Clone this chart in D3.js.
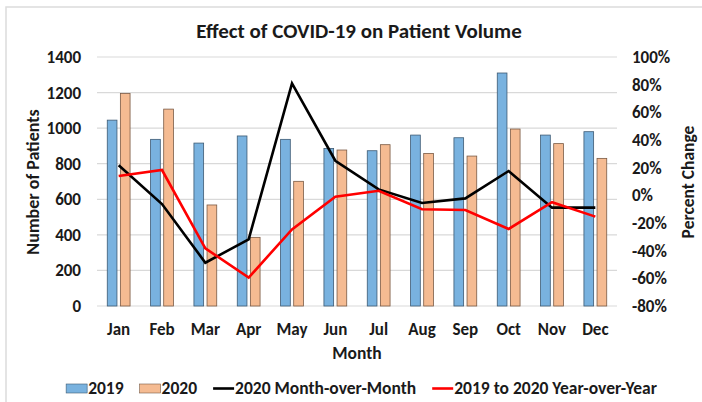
<!DOCTYPE html>
<html>
<head>
<meta charset="utf-8">
<script src="https://cdn.jsdelivr.net/npm/d3@7"></script>
<style>
  body { margin: 0; background: #fff; }
  svg text { font-family: Carlito, Lato, sans-serif; font-weight: bold; fill: #1a1a1a; }
</style>
</head>
<body>
<div id="chart"></div>
<script>
// data
var months = ["Jan","Feb","Mar","Apr","May","Jun","Jul","Aug","Sep","Oct","Nov","Dec"];
var patients2019 = [1045, 937, 916, 956, 937, 886, 873, 961, 946, 1310, 961, 980];
var patients2020 = [1195, 1107, 568, 386, 701, 877, 907, 858, 843, 995, 913, 830];
var monthOverMonth = [21.7, -6.3, -48.7, -31.8, 81, 25, 4.3, -5.5, -2.2, 17.6, -8.9, -8.9];
var yearOverYear = [14, 18.3, -38.3, -59.5, -24.6, -1, 3.3, -10.1, -10.6, -24.3, -5, -15.4];
var leftTicks = [0, 200, 400, 600, 800, 1000, 1200, 1400];
var rightTicks = [-80, -60, -40, -20, 0, 20, 40, 60, 80, 100];

var W = 702, H = 402;
var plot = { left: 97, right: 617, top: 57, bottom: 306 };

var svg = d3.select("#chart").append("svg")
    .attr("width", W)
    .attr("height", H);

// faint frame round the chart
svg.append("rect")
    .attr("x", 6).attr("y", 7)
    .attr("width", 710).attr("height", 410)
    .attr("fill", "none")
    .attr("stroke", "#dcdcdc")
    .attr("stroke-width", 1.5);

var x = d3.scaleBand().domain(months).range([plot.left, plot.right]);
var xs = d3.scaleBand().domain(["2019", "2020"]).range([-11.4, 11.4]).paddingInner(0.26);
var y = d3.scaleLinear().domain([0, 1400]).range([plot.bottom, plot.top]);
var y2 = d3.scaleLinear().domain([-80, 100]).range([plot.bottom, plot.top]);

function cx(m) { return x(m) + x.bandwidth() / 2; }

// gridlines
svg.append("g").selectAll("line")
    .data(leftTicks)
    .enter().append("line")
    .attr("x1", plot.left).attr("x2", plot.right)
    .attr("y1", function(d) { return y(d); })
    .attr("y2", function(d) { return y(d); })
    .attr("stroke", "#d9d9d9")
    .attr("stroke-width", 1.2);

// left axis
var yAxis = svg.append("g")
    .attr("transform", "translate(" + plot.left + ",0)")
    .call(d3.axisLeft(y).tickValues(leftTicks).tickSize(0).tickPadding(16)
        .tickFormat(d3.format("d")));
yAxis.select(".domain").remove();
yAxis.selectAll("text").style("font-size", "17px");

// right axis
var y2Axis = svg.append("g")
    .attr("transform", "translate(" + plot.right + ",0)")
    .call(d3.axisRight(y2).tickValues(rightTicks).tickSize(0).tickPadding(15)
        .tickFormat(function(d) { return d + "%"; }));
y2Axis.select(".domain").remove();
y2Axis.selectAll("text").style("font-size", "17px");

// month axis
var xAxis = svg.append("g")
    .attr("transform", "translate(0," + plot.bottom + ")")
    .call(d3.axisBottom(x).tickSize(0).tickPadding(17));
xAxis.select(".domain").remove();
xAxis.selectAll("text").style("font-size", "17px");

// bars
var series = [
    { key: "2019", values: patients2019, fill: "#79b2df", stroke: "#3d5a73" },
    { key: "2020", values: patients2020, fill: "#f5bb92", stroke: "#7a5a45" }
];

series.forEach(function(s) {
    svg.append("g").selectAll("rect")
        .data(months)
        .enter().append("rect")
        .attr("x", function(m) { return cx(m) + xs(s.key); })
        .attr("y", function(m, i) { return y(s.values[i]); })
        .attr("width", xs.bandwidth())
        .attr("height", function(m, i) { return y(0) - y(s.values[i]); })
        .attr("fill", s.fill)
        .attr("stroke", s.stroke)
        .attr("stroke-width", 0.8);
});

// lines on the right axis
var line = d3.line()
    .x(function(d, i) { return cx(months[i]); })
    .y(function(d) { return y2(d); });

svg.append("path")
    .datum(monthOverMonth)
    .attr("d", line)
    .attr("fill", "none")
    .attr("stroke", "#000")
    .attr("stroke-width", 2.6);

svg.append("path")
    .datum(yearOverYear)
    .attr("d", line)
    .attr("fill", "none")
    .attr("stroke", "#ff0000")
    .attr("stroke-width", 2.6);

// titles
svg.append("text")
    .attr("x", 359).attr("y", 38)
    .attr("text-anchor", "middle")
    .style("font-size", "21px")
    .text("Effect of COVID-19 on Patient Volume");

svg.append("text")
    .attr("transform", "translate(39,182) rotate(-90)")
    .attr("text-anchor", "middle")
    .style("font-size", "18px")
    .text("Number of Patients");

svg.append("text")
    .attr("transform", "translate(694,182) rotate(-90)")
    .attr("text-anchor", "middle")
    .style("font-size", "17.5px")
    .text("Percent Change");

svg.append("text")
    .attr("x", 357).attr("y", 359)
    .attr("text-anchor", "middle")
    .style("font-size", "17.5px")
    .text("Month");

// legend
var legendItems = [
    { label: "2019", type: "rect", fill: "#79b2df", stroke: "#3d5a73" },
    { label: "2020", type: "rect", fill: "#f5bb92", stroke: "#7a5a45" },
    { label: "2020 Month-over-Month", type: "line", stroke: "#000" },
    { label: "2019 to 2020 Year-over-Year", type: "line", stroke: "#ff0000" }
];

var legend = svg.append("g");
var lx = 0;
legendItems.forEach(function(it) {
    var g = legend.append("g").attr("transform", "translate(" + lx + ",0)");
    if (it.type === "rect") {
        g.append("rect")
            .attr("x", 0).attr("y", -10)
            .attr("width", 21).attr("height", 9)
            .attr("fill", it.fill)
            .attr("stroke", it.stroke)
            .attr("stroke-width", 0.6);
    } else {
        g.append("line")
            .attr("x1", 0).attr("x2", 21)
            .attr("y1", -5.5).attr("y2", -5.5)
            .attr("stroke", it.stroke)
            .attr("stroke-width", 2.6);
    }
    var t = g.append("text")
        .attr("x", 22).attr("y", 0)
        .style("font-size", "17.5px")
        .text(it.label);
    lx += 22 + t.node().getComputedTextLength() + 16;
});
lx -= 16;
legend.attr("transform", "translate(" + (361.5 - lx / 2) + ",394)");
</script>
</body>
</html>
